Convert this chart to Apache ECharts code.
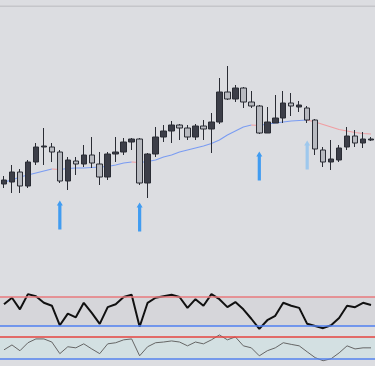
<!DOCTYPE html>
<html>
<head>
<meta charset="utf-8">
<script src="https://cdn.jsdelivr.net/npm/echarts@6/dist/echarts.min.js"></script>
<style>
html,body{margin:0;padding:0;background:#dcdde1;}
#chart{width:375px;height:366px;}
</style>
</head>
<body>
<div id="chart"></div>
<script>
// ---- data ----
const categories = ['1','2','3','4','5','6','7','8','9','10','11','12','13','14','15','16','17','18','19','20','21','22','23','24','25','26','27','28','29','30','31','32','33','34','35','36','37','38','39','40','41','42','43','44','45','46','47'];
// [open, close, low, high]
const candles = [
  [116,120,112,124],[118,128,107,135],[128,114,107,131],[114,138,112,140],[138,153,135,157],
  [153,154,135,172],[153,148,138,157],[148,119,117,150],[119,140,110,143],[139,136,125,143],
  [136,145,133,155],[145,137,132,163],[136,123,115,148],[123,146,120,148],[146,148,138,163],
  [148,158,145,162],[158,161,150,162],[161,117,115,162],[117,146,102,147],[146,163,143,173],
  [163,169,158,175],[169,175,157,179],[175,172,160,176],[172,163,160,175],[163,174,160,176],
  [174,171,160,180],[171,178,147,187],[178,208,176,222],[208,201,200,234],[201,212,198,215],
  [212,198,192,213],[198,194,192,209],[194,167,166,195],[167,178,167,193],[177,182,177,205],
  [182,197,177,209],[197,194,184,207],[193,195,188,199],[192,180,177,194],[180,151,145,181],
  [150,138,133,153],[138,141,130,160],[140,152,138,155],[153,164,150,173],[164,157,153,170],
  [157,161,152,168],[160,161,159,163]
];
const maLine = [118,120,123,125,127,129,131,130.5,131.5,132,132,132.5,133,133.5,135,137,138,137.5,138.5,140,143,145,148,150,152,154,156.5,160,165,169,173,175,174.5,176,177,178,179,179.5,180,178,175.5,173,170.5,169,167.5,166.5,166];
const oscFast = [60,69,53,74,71,62,58,31,47,42,62,48,33,56,60,70,73,29,62,69,71,73,70,55,67,58,74,67,56,63,53,40,26,38,44,62,58,55,33,30,27,31,41,58,56,62,59];
const oscSlow = [44.5,58,42,64,74.5,74.5,66,34,53,50,61,47,34,61,64,72,74.5,28,53,64,66,69,66,55.5,66,61,72,85.5,72,80,55.5,50,28,42,50,64,59.5,55.5,39,23,14.5,20,36,55.5,47,50,50];
const arrowIdx = [7,17,32,38];
const arrowFaded = [false,false,false,true];
const fastLevels = [70,30];
const slowLevels = [80,20];

// ---- helpers ----
function splitBySlope(vals, rising) {
  const out = [];
  let lastEnd = -2;
  for (let i = 0; i < vals.length - 1; i++) {
    const up = vals[i + 1] >= vals[i];
    if (up !== rising) continue;
    if (lastEnd !== i) {
      if (out.length) out.push([i, '-']);
      out.push([i, vals[i]]);
    }
    out.push([i + 1, vals[i + 1]]);
    lastEnd = i + 1;
  }
  return out;
}

const arrowData = arrowIdx.map((k, j) => ({
  value: [k, candles[k][2]],
  itemStyle: { color: arrowFaded[j] ? '#8fc3f0' : '#1a8cf5' }
}));

const chart = echarts.init(document.getElementById('chart'), null, { renderer: 'canvas' });

const xBase = {
  type: 'category', data: categories, boundaryGap: true,
  axisLine: { show: false }, axisTick: { show: false }, axisLabel: { show: false }, splitLine: { show: false }
};
const yBase = {
  type: 'value', axisLine: { show: false }, axisTick: { show: false }, axisLabel: { show: false }, splitLine: { show: false }
};

const option = {
  backgroundColor: '#dcdde1',
  animation: false,
  graphic: [
    { type: 'rect', shape: { x: 0, y: 5.5, width: 375, height: 1.6 }, style: { fill: '#c5c6ca' }, silent: true }
  ],
  grid: [
    { left: -6.34, width: 386.7, top: 0, height: 280 },
    { left: -6.34, width: 386.7, top: 275.25, height: 72.5 },
    { left: -6.34, width: 386.7, top: 329.67, height: 36.67 }
  ],
  xAxis: [
    Object.assign({ gridIndex: 0 }, xBase),
    Object.assign({ gridIndex: 1 }, xBase),
    Object.assign({ gridIndex: 2 }, xBase)
  ],
  yAxis: [
    Object.assign({ gridIndex: 0, min: 20, max: 300 }, yBase),
    Object.assign({ gridIndex: 1, min: 0, max: 100 }, yBase),
    Object.assign({ gridIndex: 2, min: 0, max: 100 }, yBase)
  ],
  series: [
    {
      type: 'line', xAxisIndex: 0, yAxisIndex: 0, data: splitBySlope(maLine, true),
      showSymbol: false, symbol: 'none', connectNulls: false,
      lineStyle: { color: '#7a9cf2', width: 1.1 }, z: 1
    },
    {
      type: 'line', xAxisIndex: 0, yAxisIndex: 0, data: splitBySlope(maLine, false),
      showSymbol: false, symbol: 'none', connectNulls: false,
      lineStyle: { color: '#f09ea2', width: 1.1 }, z: 1
    },
    {
      type: 'candlestick', xAxisIndex: 0, yAxisIndex: 0, data: candles,
      barWidth: 6,
      itemStyle: {
        color: '#3c3e48', color0: '#b8bac0',
        borderColor: '#2a2c34', borderColor0: '#2a2c34', borderWidth: 1
      },
      z: 3
    },
    {
      type: 'scatter', xAxisIndex: 0, yAxisIndex: 0, data: arrowData,
      symbol: 'path://M3,0 L6,5 L4.6,5 L4.6,29 L1.4,29 L1.4,5 L0,5 Z',
      symbolSize: [6, 29], symbolOffset: [0, 32], z: 4, silent: true
    },
    {
      type: 'line', xAxisIndex: 1, yAxisIndex: 1, data: oscFast,
      showSymbol: false, symbol: 'none',
      lineStyle: { color: '#111111', width: 2 }, z: 3,
      markArea: { silent: true, itemStyle: { color: '#d6d6da' }, data: [[{ yAxis: fastLevels[1] }, { yAxis: fastLevels[0] }]] },
      markLine: {
        silent: true, symbol: 'none', label: { show: false },
        data: [
          { yAxis: fastLevels[0], lineStyle: { color: '#e9787c', width: 1.5, type: 'solid' } },
          { yAxis: fastLevels[1], lineStyle: { color: '#4f7ff0', width: 1.5, type: 'solid' } }
        ]
      }
    },
    {
      type: 'line', xAxisIndex: 2, yAxisIndex: 2, data: oscSlow,
      showSymbol: false, symbol: 'none',
      lineStyle: { color: '#666666', width: 1 }, z: 3,
      markArea: { silent: true, itemStyle: { color: '#d3e0e2' }, data: [[{ yAxis: slowLevels[1] }, { yAxis: slowLevels[0] }]] },
      markLine: {
        silent: true, symbol: 'none', label: { show: false },
        data: [
          { yAxis: slowLevels[0], lineStyle: { color: '#e6433f', width: 1.5, type: 'solid' } },
          { yAxis: slowLevels[1], lineStyle: { color: '#5382ee', width: 1.5, type: 'solid' } }
        ]
      }
    }
  ]
};
chart.setOption(option);
</script>
</body>
</html>
